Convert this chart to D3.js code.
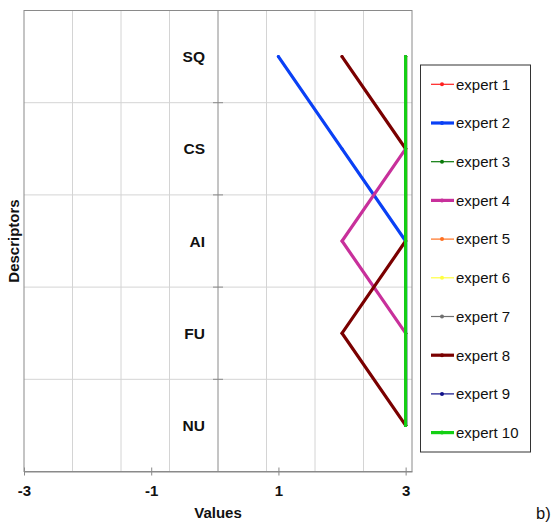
<!DOCTYPE html>
<html>
<head>
<meta charset="utf-8">
<script src="https://cdn.jsdelivr.net/npm/d3@7"></script>
<style>
  html, body { margin: 0; padding: 0; background: #fff; }
  svg { display: block; font-family: "Liberation Sans", Arial, sans-serif; }
</style>
</head>
<body>
<svg id="chart" width="557" height="524"></svg>
<script>
// Descriptor categories, top to bottom
const descriptors = ["SQ", "CS", "AI", "FU", "NU"];

// Scores given by each expert to SQ, CS, AI, FU, NU
const expert1  = [3, 3, 3, 3, 3];
const expert2  = [1, 2, 3, 3, 3];
const expert3  = [3, 3, 3, 3, 3];
const expert4  = [3, 3, 2, 3, 3];
const expert5  = [3, 3, 3, 3, 3];
const expert6  = [3, 3, 3, 3, 3];
const expert7  = [3, 3, 3, 3, 3];
const expert8  = [2, 3, 3, 2, 3];
const expert9  = [3, 3, 3, 3, 3];
const expert10 = [3, 3, 3, 3, 3];

const expertNames = ["expert 1", "expert 2", "expert 3", "expert 4", "expert 5",
                     "expert 6", "expert 7", "expert 8", "expert 9", "expert 10"];
const expertValues = [expert1, expert2, expert3, expert4, expert5,
                      expert6, expert7, expert8, expert9, expert10];

// Value axis labels
const xTickValues = [-3, -1, 1, 3];

// Line styling per expert
const colors = ["#ff2020", "#0a40f5", "#0a7a0a", "#c8309b", "#ff7020",
                "#ffff40", "#707070", "#7a0000", "#10108a", "#14d014"];
const widths = [1.2, 3.2, 1.2, 3.2, 1.2, 1.2, 1.2, 3.2, 1.2, 3.2];

const series = expertNames.map((name, i) => ({
  name,
  color: colors[i],
  width: widths[i],
  points: descriptors.map((d, j) => ({ cat: d, value: expertValues[i][j] }))
}));

const svg = d3.select("#chart");

const plot = { left: 24, right: 412, top: 10.5, bottom: 471.5 };

const x = d3.scaleLinear().domain([-3, 3.1]).range([plot.left, plot.right]);
const y = d3.scaleBand().domain(descriptors).range([plot.top, plot.bottom]);
const yMid = d => y(d) + y.bandwidth() / 2;

// Gridlines: eight equal divisions across the value range
const gridStep = (3.1 - (-3)) / 8;
const vGrid = d3.range(1, 8).map(k => -3 + k * gridStep);
const centerValue = -3 + 4 * gridStep;

const grid = svg.append("g");
grid.selectAll("line.v")
  .data(vGrid.filter(v => Math.abs(v - centerValue) > 1e-9))
  .join("line")
  .attr("x1", d => x(d)).attr("x2", d => x(d))
  .attr("y1", plot.top).attr("y2", plot.bottom)
  .attr("stroke", "#d4d4d4").attr("stroke-width", 1);

// Horizontal gridlines at category boundaries
const bounds = descriptors.slice(1).map(d => y(d));
grid.selectAll("line.h")
  .data(bounds)
  .join("line")
  .attr("x1", plot.left).attr("x2", plot.right)
  .attr("y1", d => d).attr("y2", d => d)
  .attr("stroke", "#d4d4d4").attr("stroke-width", 1);

// Plot frame
svg.append("rect")
  .attr("x", plot.left).attr("y", plot.top)
  .attr("width", plot.right - plot.left).attr("height", plot.bottom - plot.top)
  .attr("fill", "none").attr("stroke", "#8a8a8a").attr("stroke-width", 1);

// Category axis through the middle of the plot
const cx = x(centerValue);
svg.append("line")
  .attr("x1", cx).attr("x2", cx)
  .attr("y1", plot.top).attr("y2", plot.bottom)
  .attr("stroke", "#8a8a8a").attr("stroke-width", 1);
svg.selectAll("line.ytick")
  .data(bounds)
  .join("line")
  .attr("x1", cx - 5).attr("x2", cx + 5)
  .attr("y1", d => d).attr("y2", d => d)
  .attr("stroke", "#8a8a8a").attr("stroke-width", 1);

// Category labels
svg.selectAll("text.cat")
  .data(descriptors)
  .join("text")
  .attr("x", cx - 13)
  .attr("y", d => yMid(d) + 5.5)
  .attr("text-anchor", "end")
  .attr("font-weight", "bold")
  .attr("font-size", 15.5)
  .attr("fill", "#111")
  .text(d => d);

// Value axis along the bottom (plain hyphen for negatives)
const xAxis = d3.axisBottom(x)
  .tickValues(xTickValues)
  .tickSize(0)
  .tickPadding(0)
  .tickFormat(d => String(d));
const xg = svg.append("g").attr("transform", `translate(0,${plot.bottom})`).call(xAxis);
xg.select(".domain").attr("stroke", "#8a8a8a");
xg.selectAll(".tick line").remove();
xg.selectAll(".tick").append("line")
  .attr("y1", -4).attr("y2", 4)
  .attr("stroke", "#8a8a8a");
xg.selectAll(".tick text")
  .attr("dy", 0).attr("y", 24)
  .attr("font-family", "Liberation Sans, Arial, sans-serif")
  .attr("font-size", 15).attr("font-weight", "bold").attr("fill", "#111");

// Axis titles
svg.append("text")
  .attr("x", cx).attr("y", 517.5)
  .attr("text-anchor", "middle")
  .attr("font-weight", "bold").attr("font-size", 15).attr("fill", "#111")
  .text("Values");

svg.append("text")
  .attr("transform", `translate(18.5,${(plot.top + plot.bottom) / 2}) rotate(-90)`)
  .attr("text-anchor", "middle")
  .attr("font-weight", "bold").attr("font-size", 15).attr("fill", "#111")
  .text("Descriptors");

// Expert profiles
const line = d3.line().x(d => x(d.value)).y(d => yMid(d.cat));
const lines = svg.append("g");
series.forEach(s => {
  const g = lines.append("g");
  g.append("path")
    .attr("d", line(s.points))
    .attr("fill", "none")
    .attr("stroke", s.color)
    .attr("stroke-width", s.width)
    .attr("stroke-linejoin", "miter")
    .attr("stroke-linecap", "round");
  g.selectAll("circle")
    .data(s.points)
    .join("circle")
    .attr("cx", d => x(d.value)).attr("cy", d => yMid(d.cat))
    .attr("r", 1.5)
    .attr("fill", s.color);
});

// Legend
const legend = svg.append("g");
legend.append("rect")
  .attr("x", 420.5).attr("y", 65)
  .attr("width", 110).attr("height", 387)
  .attr("fill", "#fff").attr("stroke", "#333").attr("stroke-width", 1);

const items = legend.selectAll("g.item")
  .data(series)
  .join("g")
  .attr("transform", (d, i) => `translate(0,${84.3 + i * 38.7})`);
items.append("line")
  .attr("x1", 431).attr("x2", 454)
  .attr("stroke", d => d.color)
  .attr("stroke-width", d => d.width);
items.append("circle")
  .attr("cx", 442).attr("r", 2)
  .attr("fill", d => d.color);
items.append("text")
  .attr("x", 456).attr("y", 5.3)
  .attr("font-size", 15).attr("fill", "#111")
  .text(d => d.name);

// Panel tag
svg.append("text")
  .attr("x", 536).attr("y", 518.5)
  .attr("font-size", 16.5).attr("fill", "#111")
  .text("b)");
</script>
</body>
</html>
